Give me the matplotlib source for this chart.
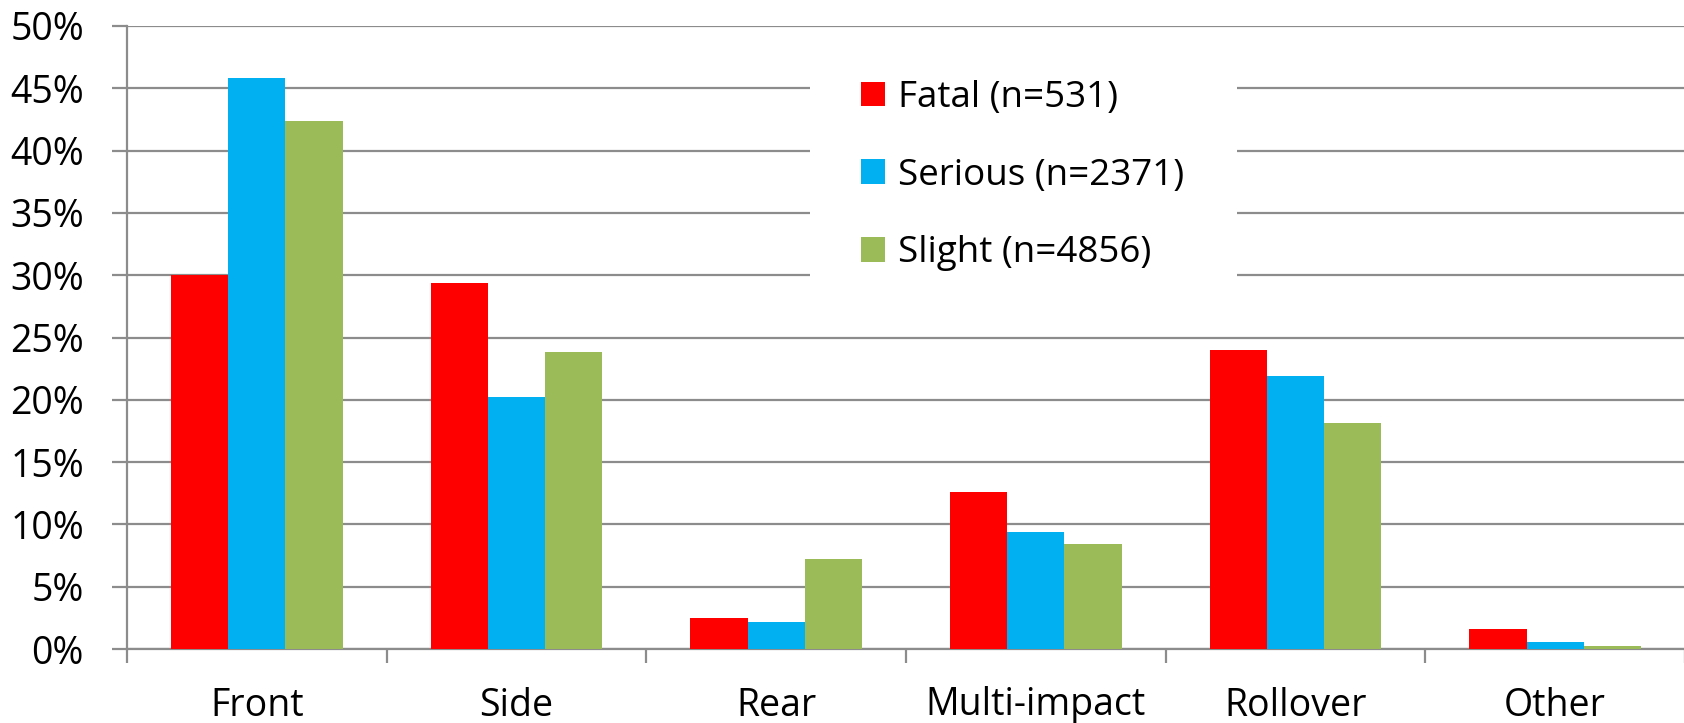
import numpy as np
import matplotlib
matplotlib.use('Agg')
import matplotlib.pyplot as plt
from matplotlib.patches import Rectangle
from matplotlib.ticker import FixedLocator, PercentFormatter

plt.rcParams['font.family'] = ['Open Sans', 'DejaVu Sans']

# Data (percent of each severity group)
categories = ['Front', 'Side', 'Rear', 'Multi-impact', 'Rollover', 'Other']
series_names = ['Fatal (n=531)', 'Serious (n=2371)', 'Slight (n=4856)']
fatal = [30.0, 29.4, 2.5, 12.6, 24.0, 1.6]
serious = [45.8, 20.2, 2.2, 9.4, 21.9, 0.6]
slight = [42.4, 23.8, 7.2, 8.4, 18.1, 0.25]
colors = ['#FF0000', '#00B0F0', '#9BBB59']

W, H = 1684, 723
fig = plt.figure(figsize=(W / 100, H / 100), dpi=100)
ax = fig.add_axes([127 / W, 1 - 649 / H, 1558 / W, (649 - 26) / H])

x = np.arange(len(categories))
bw = 0.22
for i, (vals, name, c) in enumerate(zip([fatal, serious, slight], series_names, colors)):
    ax.bar(x + (i - 1) * bw, vals, bw, color=c, label=name, zorder=3)

ax.set_xlim(-0.5, len(categories) - 0.5)
ax.set_ylim(0, 50)
ax.yaxis.set_major_locator(FixedLocator(np.arange(0, 51, 5)))
ax.yaxis.set_major_formatter(PercentFormatter(decimals=0))
ax.grid(axis='y', color='#8c8c8c', linewidth=1.6, zorder=0)

ax.set_xticks(x)
ax.set_xticklabels(categories)
ax.set_xticks(np.arange(-0.5, len(categories)), minor=True)

grey = '#8c8c8c'
for s in ['top', 'right']:
    ax.spines[s].set_visible(False)
for s in ['left', 'bottom']:
    ax.spines[s].set_color(grey)
    ax.spines[s].set_linewidth(1.6)

ax.tick_params(axis='y', length=11, width=1.6, color=grey, pad=20, labelsize=27)
ax.tick_params(axis='x', which='major', length=0, pad=27, labelsize=27)
ax.tick_params(axis='x', which='minor', length=10, width=1.6, color=grey)

# white box behind the legend, hiding the gridlines
ax.add_patch(Rectangle((810 / W, 1 - 305 / H), 427 / W, 265 / H, transform=fig.transFigure,
                       facecolor='white', edgecolor='none', zorder=2.5, clip_on=False))

leg = ax.legend(loc='upper left', bbox_to_anchor=(861 / W, 1 - 80 / H),
                bbox_transform=fig.transFigure, fontsize=26.5, frameon=False,
                borderpad=0, borderaxespad=0, handlelength=0.65, handleheight=0.65,
                handletextpad=0.35, labelspacing=1.13)
leg.set_zorder(5)

fig.savefig('out.png', dpi=100)
